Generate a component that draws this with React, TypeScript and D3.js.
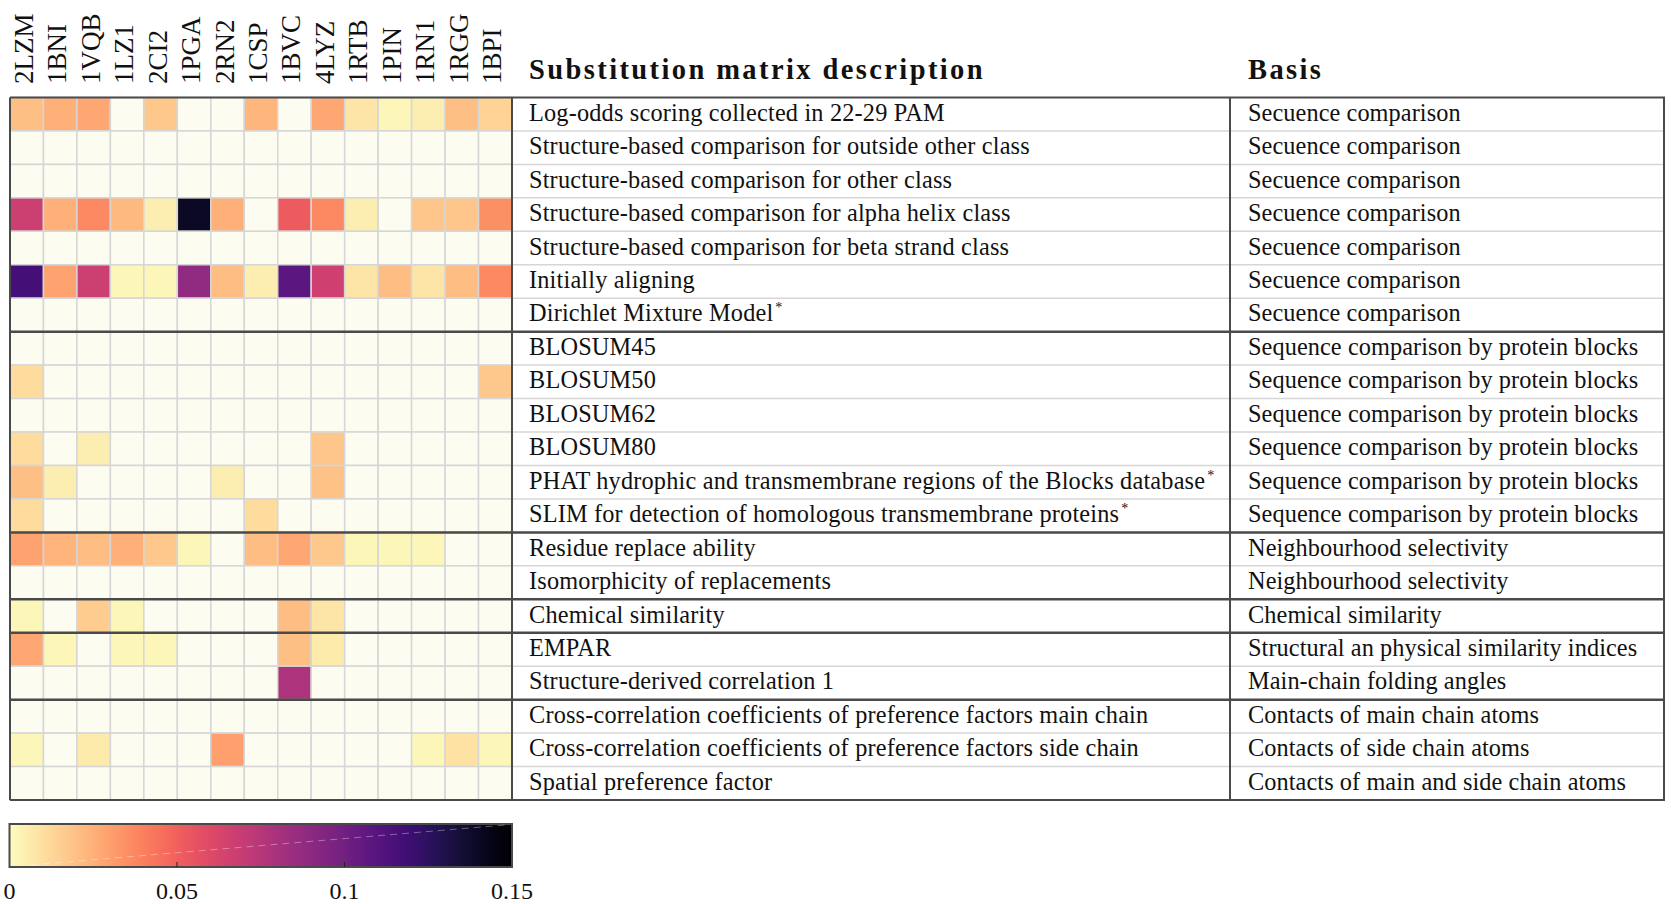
import React from "react";
import * as d3 from "d3";

const proteins = ["2LZM","1BNI","1VQB","1LZ1","2CI2","1PGA","2RN2","1CSP","1BVC","4LYZ","1RTB","1PIN","1RN1","1RGG","1BPI"];

const descriptions = [
  "Log-odds scoring collected in 22-29 PAM",
  "Structure-based comparison for outside other class",
  "Structure-based comparison for other class",
  "Structure-based comparison for alpha helix class",
  "Structure-based comparison for beta strand class",
  "Initially aligning",
  "Dirichlet Mixture Model*",
  "BLOSUM45",
  "BLOSUM50",
  "BLOSUM62",
  "BLOSUM80",
  "PHAT hydrophic and transmembrane regions of the Blocks database*",
  "SLIM for detection of homologous transmembrane proteins*",
  "Residue replace ability",
  "Isomorphicity of replacements",
  "Chemical similarity",
  "EMPAR",
  "Structure-derived correlation 1",
  "Cross-correlation coefficients of preference factors main chain",
  "Cross-correlation coefficients of preference factors side chain",
  "Spatial preference factor",
];

const bases = [
  "Secuence comparison","Secuence comparison","Secuence comparison","Secuence comparison",
  "Secuence comparison","Secuence comparison","Secuence comparison",
  "Sequence comparison by protein blocks","Sequence comparison by protein blocks",
  "Sequence comparison by protein blocks","Sequence comparison by protein blocks",
  "Sequence comparison by protein blocks","Sequence comparison by protein blocks",
  "Neighbourhood selectivity","Neighbourhood selectivity",
  "Chemical similarity",
  "Structural an physical similarity indices",
  "Main-chain folding angles",
  "Contacts of main chain atoms",
  "Contacts of side chain atoms",
  "Contacts of main and side chain atoms",
];

// rows = descriptions, columns = proteins
const values: number[][] = [
  [0.020,0.025,0.028,0,0.017,0,0,0.023,0,0.028,0.008,0.002,0.005,0.020,0.014],
  [0,0,0,0,0,0,0,0,0,0,0,0,0,0,0],
  [0,0,0,0,0,0,0,0,0,0,0,0,0,0,0],
  [0.067,0.025,0.037,0.022,0.005,0.140,0.025,0,0.052,0.037,0.005,0,0.018,0.018,0.035],
  [0,0,0,0,0,0,0,0,0,0,0,0,0,0,0],
  [0.117,0.029,0.067,0.002,0.002,0.088,0.021,0.005,0.108,0.066,0.008,0.021,0.008,0.021,0.037],
  [0,0,0,0,0,0,0,0,0,0,0,0,0,0,0],
  [0,0,0,0,0,0,0,0,0,0,0,0,0,0,0],
  [0.011,0,0,0,0,0,0,0,0,0,0,0,0,0,0.017],
  [0,0,0,0,0,0,0,0,0,0,0,0,0,0,0],
  [0.011,0,0.005,0,0,0,0,0,0,0.018,0,0,0,0,0],
  [0.020,0.005,0,0,0,0,0.005,0,0,0.019,0,0,0,0,0],
  [0.011,0,0,0,0,0,0,0.011,0,0,0,0,0,0,0],
  [0.029,0.024,0.021,0.025,0.017,0.002,0,0.021,0.028,0.017,0.002,0.002,0.002,0,0],
  [0,0,0,0,0,0,0,0,0,0,0,0,0,0,0],
  [0.002,0,0.016,0.002,0,0,0,0,0.021,0.008,0,0,0,0,0],
  [0.028,0.002,0,0.002,0.002,0,0,0,0.020,0.006,0,0,0,0,0],
  [0,0,0,0,0,0,0,0,0.078,0,0,0,0,0,0],
  [0,0,0,0,0,0,0,0,0,0,0,0,0,0,0],
  [0.002,0,0.006,0,0,0,0.030,0,0,0,0,0,0.002,0.009,0.002],
  [0,0,0,0,0,0,0,0,0,0,0,0,0,0,0],
];

const groupBreaks = [7, 13, 15, 16, 18];
const colorTicks = [0, 0.05, 0.1, 0.15];
const colorDomain = [0, 0.15];

const W = 1671, H = 904;
const FONT = "'Liberation Serif', 'Times New Roman', serif";

export default function App() {
  const left = 10, heatRight = 512, divider = 1230, right = 1664;
  const top = 97.5, bottom = 800;
  const x = d3.scaleBand<string>().domain(proteins).range([left, heatRight]).padding(0);
  const rowIdx = descriptions.map((_, i) => String(i));
  const y = d3.scaleBand<string>().domain(rowIdx).range([top, bottom]).padding(0);
  const color = d3.scaleSequential((t: number) => d3.interpolateMagma(1 - t)).domain(colorDomain as [number, number]);
  const zeroFill = "#fdfcf1";

  const cbX = d3.scaleLinear().domain(colorDomain).range([9.5, 512]);
  const cbTop = 824, cbBottom = 867;
  const gradStops = d3.range(0, 1.0001, 0.02);

  const dark = "#4a4a4a";
  const light = "#d6d6d6";

  return (
    <svg width={W} height={H} style={{ position: "absolute", left: 0, top: 0, display: "block", background: "#fff" }}>
      <defs>
        <linearGradient id="cbGrad" x1="0" x2="1" y1="0" y2="0">
          {gradStops.map((t) => (
            <stop key={t} offset={`${t * 100}%`} stopColor={color(colorDomain[0] + t * (colorDomain[1] - colorDomain[0]))} />
          ))}
        </linearGradient>
      </defs>

      {/* column labels */}
      {proteins.map((p) => (
        <text key={p} transform={`translate(${x(p)! + x.bandwidth() / 2},84) rotate(-90)`} y={6}
          fontFamily={FONT} fontSize={27} fill="#111">{p}</text>
      ))}

      {/* headers */}
      <text x={529} y={79} fontFamily={FONT} fontWeight="bold" fontSize={28.5} letterSpacing={2.4} fill="#111">Substitution matrix description</text>
      <text x={1248} y={79} fontFamily={FONT} fontWeight="bold" fontSize={28.5} letterSpacing={2.4} fill="#111">Basis</text>

      {/* cells */}
      {values.map((row, ri) => row.map((v, ci) => (
        <rect key={`${ri}-${ci}`} x={x(proteins[ci])!} y={y(String(ri))!} width={x.bandwidth()} height={y.bandwidth()}
          fill={v > 0 ? color(v) : zeroFill} stroke={light} strokeWidth={1.5} />
      )))}

      {/* table row separators */}
      {rowIdx.slice(1).map((r) => (
        <line key={r} x1={heatRight} x2={right} y1={y(r)!} y2={y(r)!} stroke={light} strokeWidth={1.5} />
      ))}

      {/* text rows */}
      {descriptions.map((d, i) => {
        const cy = y(String(i))! + y.bandwidth() / 2 + 6.5;
        const star = d.endsWith("*");
        return (
          <g key={i}>
            <text x={529} y={cy} fontFamily={FONT} fontSize={24.3} letterSpacing={0.18} fill="#111">
              {star ? d.slice(0, -1) : d}
              {star && <tspan fontSize={14} dx={2} dy={-9}>*</tspan>}
            </text>
            <text x={1248} y={cy} fontFamily={FONT} fontSize={24.3} letterSpacing={0.08} fill="#111">{bases[i]}</text>
          </g>
        );
      })}

      {/* group lines */}
      {groupBreaks.map((g) => (
        <line key={g} x1={left} x2={right} y1={y(String(g))!} y2={y(String(g))!} stroke={dark} strokeWidth={2.5} />
      ))}

      {/* borders */}
      <line x1={left} x2={right + 1} y1={top} y2={top} stroke={dark} strokeWidth={2} />
      <line x1={left} x2={right + 1} y1={bottom} y2={bottom} stroke={dark} strokeWidth={2} />
      <line x1={left} x2={left} y1={top} y2={bottom} stroke={dark} strokeWidth={2} />
      <line x1={heatRight} x2={heatRight} y1={top} y2={bottom} stroke={dark} strokeWidth={2} />
      <line x1={divider} x2={divider} y1={top} y2={bottom} stroke={dark} strokeWidth={2} />
      <line x1={right} x2={right} y1={top} y2={bottom} stroke={dark} strokeWidth={2} />

      {/* colorbar */}
      <rect x={cbX(colorDomain[0])} y={cbTop} width={cbX(colorDomain[1]) - cbX(colorDomain[0])} height={cbBottom - cbTop}
        fill="url(#cbGrad)" stroke={dark} strokeWidth={2} />
      <line x1={cbX(0.0065)} y1={cbBottom - 2} x2={cbX(0.148)} y2={cbTop + 1} stroke="#fff" strokeOpacity={0.35} strokeWidth={1} strokeDasharray="7 5" />
      {colorTicks.slice(1, -1).map((t) => (
        <line key={t} x1={cbX(t)} x2={cbX(t)} y1={cbBottom} y2={cbBottom - 5} stroke="#222" strokeWidth={1} />
      ))}
      {colorTicks.map((t) => (
        <text key={t} x={cbX(t)} y={899} textAnchor="middle" fontFamily={FONT} fontSize={24} fill="#111">{String(t)}</text>
      ))}
    </svg>
  );
}
